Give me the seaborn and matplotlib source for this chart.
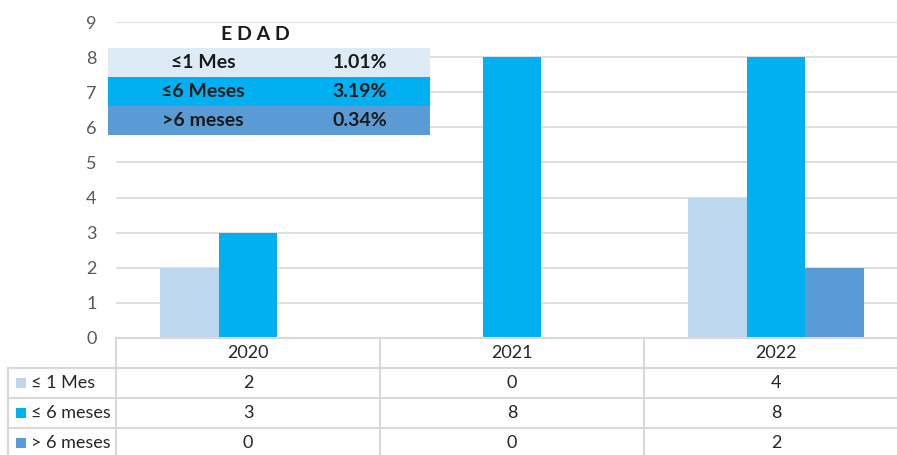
import seaborn as sns
import matplotlib.pyplot as plt
import pandas as pd
from matplotlib.patches import Rectangle

years = ['2020', '2021', '2022']
series = ['≤ 1 Mes', '≤ 6 meses', '> 6 meses']
values = {
    '≤ 1 Mes': [2, 0, 4],
    '≤ 6 meses': [3, 8, 8],
    '> 6 meses': [0, 0, 2],
}
colors = ['#BDD7EE', '#00B0F0', '#5B9BD5']

edad_labels = ['≤1 Mes', '≤6 Meses', '>6 meses']
edad_pct = ['1.01%', '3.19%', '0.34%']
edad_colors = ['#DDEBF7', '#00B0F0', '#5B9BD5']

rows = []
for s in series:
    for y, v in zip(years, values[s]):
        rows.append({'year': y, 'serie': s, 'n': v})
df = pd.DataFrame(rows)

sns.set_theme(style='white')
plt.rcParams['font.family'] = ['Lato', 'DejaVu Sans']

W, H = 897, 455
fig = plt.figure(figsize=(W / 100, H / 100), dpi=100)

# layout in pixels
left, col_w, base, top = 116, 264, 338, 22
ax = fig.add_axes([left / W, (H - base) / H, 3 * col_w / W, (base - top) / H])
sns.barplot(data=df, x='year', y='n', hue='serie', palette=colors,
            width=0.67, saturation=1, ax=ax, legend=False,
            linewidth=0, edgecolor='none')
ax.set_xlim(-0.5, 2.5)
ax.set_ylim(0, 9)
ax.set_yticks(range(10))
ax.set_xticks([])
ax.set_xlabel('')
ax.set_ylabel('')
ax.grid(axis='y', color='#D9D9D9', lw=1.2)
ax.set_axisbelow(True)
for sp in ax.spines.values():
    sp.set_visible(False)
ax.tick_params(axis='y', length=0, pad=14, labelsize=13, labelcolor='#595959')

# overlay in pixel coordinates
ov = fig.add_axes([0, 0, 1, 1])
ov.set_xlim(0, W)
ov.set_ylim(H, 0)
ov.axis('off')
ov.patch.set_alpha(0)

grid_c = '#D9D9D9'
row_h = 30
right = left + 3 * col_w
fs = 13
# data table
ov.plot([left, right], [base, base], color=grid_c, lw=1.5)
for i in range(1, 5):
    ov.plot([8, right], [base + i * row_h, base + i * row_h], color=grid_c, lw=1.5)
ov.plot([8, 8], [base + row_h, H], color=grid_c, lw=1.5)
for j in range(3):
    ov.plot([left + j * col_w] * 2, [base, H], color=grid_c, lw=1.5)
for j, y in enumerate(years):
    ov.text(left + (j + 0.5) * col_w, base + row_h / 2, y, ha='center', va='center',
            fontsize=fs, color='#262626')
for i, s in enumerate(series):
    yc = base + (i + 1.5) * row_h
    ov.add_patch(Rectangle((16, yc - 5), 10, 10, color=colors[i], lw=0))
    ov.text(31, yc, s, ha='left', va='center', fontsize=fs, color='#262626')
    for j, v in enumerate(values[s]):
        ov.text(left + (j + 0.5) * col_w, yc, str(v), ha='center', va='center',
                fontsize=fs, color='#262626')

# EDAD inset
ix0, ix1, iy0, ih = 108, 430, 48, 29
ov.text(255, 34, 'E D A D', ha='center', va='center', fontsize=14,
        fontweight='bold', color='#1a1a1a')
for i in range(3):
    ov.add_patch(Rectangle((ix0, iy0 + i * ih), ix1 - ix0, ih,
                           color=edad_colors[i], lw=0, zorder=3))
    ov.text(203, iy0 + (i + 0.5) * ih, edad_labels[i], ha='center', va='center',
            fontsize=14, fontweight='bold', color='#1a1a1a', zorder=4)
    ov.text(360, iy0 + (i + 0.5) * ih, edad_pct[i], ha='center', va='center',
            fontsize=14, fontweight='bold', color='#1a1a1a', zorder=4)

fig.savefig('out.png', dpi=100)
